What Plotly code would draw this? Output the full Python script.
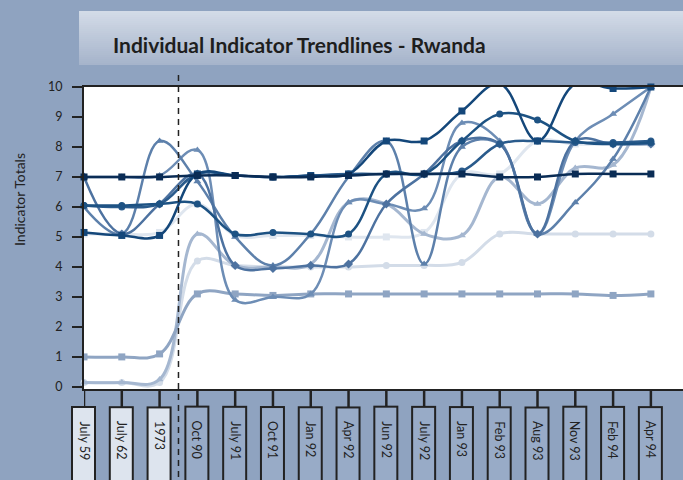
import plotly.graph_objects as go

categories = ["July 59", "July 62", "1973", "Oct 90", "July 91", "Oct 91", "Jan 92",
              "Apr 92", "Jun 92", "July 92", "Jan 93", "Feb 93", "Aug 93", "Nov 93",
              "Feb 94", "Apr 94"]
y_ticks = list(range(0, 11))

# indicator series
ind_flat7 = [7.0, 7.0, 7.0, 7.05, 7.05, 7.0, 7.0, 7.05, 7.1, 7.1, 7.1, 7.0, 7.0, 7.1, 7.1, 7.1]
ind_top10 = [5.15, 5.05, 5.05, 7.1, 7.05, 7.0, 7.05, 7.1, 8.2, 8.2, 9.2, 10.1, 8.2, 10.1, 9.95, 10.0]
ind_navy8 = [6.05, 6.05, 6.1, 6.1, 5.1, 5.15, 5.1, 5.1, 7.1, 7.1, 8.2, 9.1, 8.9, 8.2, 8.1, 8.15]
ind_dark8 = [6.05, 6.0, 6.1, 7.1, 7.05, 7.0, 7.05, 7.1, 7.1, 7.1, 7.2, 8.1, 8.2, 8.15, 8.15, 8.2]
ind_hump = [7.0, 7.0, 7.05, 7.9, 2.9, 3.0, 3.1, 6.15, 6.1, 5.95, 8.8, 8.2, 5.1, 8.2, 9.1, 10.0]
ind_vee = [7.0, 5.1, 6.1, 7.1, 4.05, 3.95, 4.05, 4.1, 6.1, 7.1, 8.2, 8.1, 5.1, 8.2, 8.1, 8.1]
ind_peak73 = [6.0, 5.1, 8.2, 6.85, 5.0, 4.05, 5.1, 7.0, 8.2, 4.1, 8.0, 8.1, 5.1, 6.15, 7.6, 10.0]
ind_low_a = [0.15, 0.15, 0.25, 5.1, 4.05, 4.0, 4.1, 6.15, 6.1, 5.1, 5.05, 7.0, 6.1, 7.3, 7.4, 10.0]
ind_low_b = [0.15, 0.15, 0.15, 4.2, 4.05, 4.0, 4.0, 4.0, 4.05, 4.05, 4.15, 5.1, 5.1, 5.1, 5.1, 5.1]
ind_one = [1.0, 1.0, 1.1, 3.1, 3.1, 3.05, 3.1, 3.1, 3.1, 3.1, 3.1, 3.1, 3.1, 3.1, 3.05, 3.1]
ind_light5 = [5.1, 5.1, 5.15, 6.1, 5.05, 5.05, 5.05, 5.0, 5.0, 5.15, 7.1, 7.1, 8.2, 8.1, 8.1, 8.1]

BG = "#8fa3c0"
INK = "#222222"
FONT = "Lato, sans-serif"

series = [
    (ind_low_b, "#d3dce8", "circle", 3),
    (ind_light5, "#dfe6ef", "square", 3),
    (ind_low_a, "#a5b7d0", "triangle-up", 3),
    (ind_one, "#8fa5c3", "square", 3),
    (ind_hump, "#6d8db5", "triangle-up", 2.5),
    (ind_peak73, "#5d80ab", "triangle-up", 2.5),
    (ind_vee, "#4d72a0", "diamond", 2.5),
    (ind_dark8, "#2a5b8c", "circle", 2.5),
    (ind_navy8, "#1d5283", "circle", 2.5),
    (ind_top10, "#14477a", "square", 2.5),
    (ind_flat7, "#0a2c55", "square", 2.5),
]

fig = go.Figure()
for vals, color, symbol, width in series:
    fig.add_trace(go.Scatter(
        x=categories, y=vals, mode="lines+markers",
        line=dict(shape="spline", smoothing=1.1, color=color, width=width),
        marker=dict(symbol=symbol, size=7, color=color),
        cliponaxis=False, showlegend=False, hoverinfo="skip",
    ))


def py(px):
    # pixel row -> paper y (plot area spans rows 87..389)
    return (389 - px) / 302


shapes = []
# title banner, light gradient
top, bottom, steps = 11, 65, 27
for k in range(steps):
    t = k / (steps - 1)
    r = round(0xd3 + (0xa6 - 0xd3) * t)
    g = round(0xdb + (0xb4 - 0xdb) * t)
    b = round(0xe7 + (0xcb - 0xe7) * t)
    y0 = top + (bottom - top) * k / steps
    y1 = top + (bottom - top) * (k + 1) / steps
    shapes.append(dict(type="rect", xref="paper", yref="paper",
                       x0=-0.0083, x1=1.01, y0=py(y1), y1=py(y0),
                       fillcolor=f"rgb({r},{g},{b})", line=dict(width=0), layer="below"))

# dashed divider between 1973 and Oct 90
shapes.append(dict(type="line", xref="x", yref="paper", x0=2.5, x1=2.5,
                   y0=py(75), y1=py(490), line=dict(color=INK, width=1.5, dash="6px,5px")))

annotations = []
for i, cat in enumerate(categories):
    shapes.append(dict(type="line", xref="x", yref="paper", x0=i, x1=i,
                       y0=0, y1=py(407), line=dict(color=INK, width=2.5)))
    annotations.append(dict(
        x=i, xref="x", y=py(406), yref="paper", text="\u00a0", showarrow=False,
        textangle=90, xanchor="center", yanchor="top", width=90, height=21,
        bgcolor="#dde4ee" if i < 3 else "#98abc7", bordercolor=INK, borderwidth=2,
        borderpad=0,
    ))
    annotations.append(dict(
        x=i, xref="x", y=py(419), yref="paper", text=cat, showarrow=False,
        textangle=90, xanchor="center", yanchor="top",
        font=dict(family=FONT, size=12.5, color=INK),
    ))

annotations.append(dict(
    x=(111 - 84) / 599, xref="paper", y=py(44), yref="paper",
    text="<b>Individual Indicator Trendlines - Rwanda</b>", showarrow=False,
    xanchor="left", yanchor="middle", font=dict(family=FONT, size=21, color="#1e1e1e"),
))
annotations.append(dict(
    x=(19 - 84) / 599, xref="paper", y=py(200), yref="paper",
    text="Indicator Totals", showarrow=False, textangle=-90,
    xanchor="center", yanchor="middle", font=dict(family=FONT, size=14, color=INK),
))

fig.update_layout(
    width=683, height=480,
    margin=dict(l=84, r=0, t=87, b=91),
    paper_bgcolor=BG, plot_bgcolor="white",
    font=dict(family=FONT, color=INK),
    shapes=shapes, annotations=annotations,
    xaxis=dict(type="category", range=[0, 15.85], showline=True, linecolor=INK,
               linewidth=2, mirror=True, showticklabels=False, ticks="",
               showgrid=False, zeroline=False),
    yaxis=dict(range=[-0.07, 10], tickvals=y_ticks, ticks="outside", ticklen=10,
               tickwidth=2, tickcolor=INK, showline=True, linecolor=INK, linewidth=2,
               showgrid=False, zeroline=False, ticklabelstandoff=7,
               tickfont=dict(family=FONT, size=12.5, color=INK)),
)

fig.write_html(
    "out.html",
    config={"displayModeBar": False},
    post_script="document.body.style.margin='0';document.body.style.background='" + BG + "';",
)
